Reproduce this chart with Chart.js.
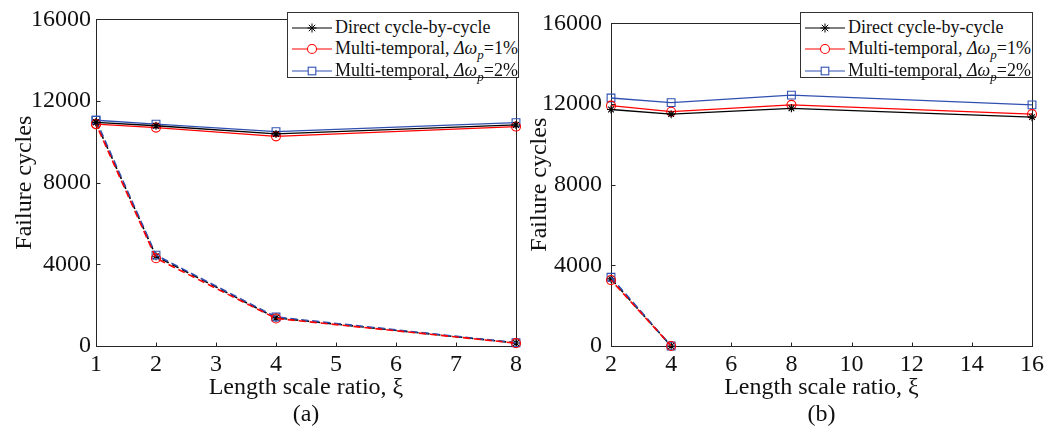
<!DOCTYPE html>
<html>
<head>
<meta charset="utf-8">
<script src="https://cdn.jsdelivr.net/npm/chart.js@4.4.1/dist/chart.umd.min.js"></script>
<style>
  html, body { margin: 0; padding: 0; background: #fff; }
  body { width: 1052px; height: 436px; position: relative; overflow: hidden; font-family: 'Liberation Serif', 'Times New Roman', Times, 'DejaVu Serif', serif; }
  .pane { position: absolute; top: 0; width: 526px; height: 436px; }
  .legend { position: absolute; background: #fff; border: 1px solid #333; box-sizing: border-box; font-family: 'Liberation Serif', 'Times New Roman', Times, 'DejaVu Serif', serif; font-size: 18px; color: #111; }
  .row { position: absolute; left: 0; height: 21px; line-height: 21px; white-space: nowrap; }
  .row svg { position: absolute; left: 4px; top: 0; }
  .row span { position: absolute; left: 47px; top: 0; }
  sub { font-size: 13px; line-height: 0; vertical-align: -5px; }
</style>
</head>
<body>
<div class="pane" style="left:0"><canvas id="ca" width="526" height="436"></canvas></div>
<div class="pane" style="left:526px"><canvas id="cb" width="526" height="436"></canvas></div>

<div class="legend" id="legA" style="left:287px; top:12px; width:232px; height:66px;"></div>
<div class="legend" id="legB" style="left:800px; top:12px; width:233px; height:66px;"></div>

<script>
// ---------- data ----------
const seriesNames = ['Direct cycle-by-cycle', 'Multi-temporal, ', 'Multi-temporal, '];
const seriesSuffix = ['', '=1%', '=2%'];

// panel (a)
const xA = [1, 2, 4, 8];
const aDirect = [10960, 10790, 10390, 10830];
const aMT1 = [10870, 10700, 10270, 10750];
const aMT2 = [11060, 10870, 10500, 10940];
const aDirectDash = [10960, 4400, 1380, 150];
const aMT1Dash = [10870, 4300, 1350, 140];
const aMT2Dash = [11060, 4450, 1420, 160];
const xTicksA = [1, 2, 3, 4, 5, 6, 7, 8];

// panel (b)
const xB = [2, 4, 8, 16];
const bDirect = [11730, 11500, 11790, 11350];
const bMT1 = [11920, 11620, 11960, 11500];
const bMT2 = [12300, 12070, 12440, 11960];
const xBDash = [2, 4];
const bDirectDash = [3330, 0];
const bMT1Dash = [3270, 0];
const bMT2Dash = [3410, 0];
const xTicksB = [2, 4, 6, 8, 10, 12, 14, 16];

const yTicks = [0, 4000, 8000, 12000, 16000];

// ---------- styles ----------
const BLACK = '#000000', RED = '#ff0000', BLUE = '#3050b0';
const FONT = "'Liberation Serif', 'Times New Roman', Times, 'DejaVu Serif', serif";

function pts(xs, ys) { return xs.map((x, i) => ({ x: x, y: ys[i] })); }

function ds(xs, ys, color, style, dashed, dashOffset) {
  const r = style === 'circle' ? 4.5 : (style === 'rect' ? 5.5 : 4);
  return {
    data: pts(xs, ys),
    borderColor: color,
    backgroundColor: 'rgba(0,0,0,0)',
    borderWidth: dashed ? 1.6 : 1.3,
    borderDash: dashed ? [7, 4] : [],
    borderDashOffset: dashOffset || 0,
    pointStyle: style,
    pointRadius: r,
    pointBorderColor: color,
    pointBackgroundColor: 'rgba(0,0,0,0)',
    pointBorderWidth: 1.1,
    tension: 0,
    clip: false
  };
}

const framePlugin = {
  id: 'frame',
  beforeDatasetsDraw(chart, args, opts) {
    const { ctx, chartArea: a, scales } = chart;
    ctx.save();
    ctx.strokeStyle = '#262626';
    ctx.lineWidth = 1;
    const L = Math.round(a.left) + 0.5, R = Math.round(a.right) + 0.5;
    const T = Math.round(a.top) + 0.5, B = Math.round(a.bottom) + 0.5;
    ctx.strokeRect(L, T, R - L, B - T);
    ctx.beginPath();
    opts.xTicks.forEach(v => {
      const px = Math.round(scales.x.getPixelForValue(v)) + 0.5;
      ctx.moveTo(px, B); ctx.lineTo(px, B - 4);
    });
    opts.yTicks.forEach(v => {
      const py = Math.round(scales.y.getPixelForValue(v)) + 0.5;
      ctx.moveTo(L, py); ctx.lineTo(L + 4, py);
    });
    ctx.stroke();
    ctx.restore();
  }
};

function makeChart(id, datasets, xMin, xMax, xTicks, yWidth, yPad, padRight, label) {
  return new Chart(document.getElementById(id), {
    type: 'line',
    data: { datasets: datasets },
    plugins: [framePlugin],
    options: {
      responsive: false,
      animation: false,
      events: [],
      layout: { padding: { top: 13, right: padRight, bottom: 0, left: 0 } },
      plugins: {
        legend: { display: false },
        tooltip: { enabled: false },
        frame: { xTicks: xTicks, yTicks: yTicks }
      },
      scales: {
        x: {
          type: 'linear', min: xMin, max: xMax,
          afterBuildTicks: s => { s.ticks = xTicks.map(v => ({ value: v })); },
          afterFit: s => { s.height = 90; },
          grid: { display: false, drawTicks: false },
          border: { display: false },
          ticks: { color: '#111', padding: 4, font: { family: FONT, size: 24 }, autoSkip: false, maxRotation: 0 },
          title: { display: true, text: ['Length scale ratio, \u03BE', label], color: '#111',
                   font: { family: FONT, size: 24, lineHeight: 1.15 }, padding: { top: 0, bottom: 7 } }
        },
        y: {
          type: 'linear', min: 0, max: 16000,
          afterBuildTicks: s => { s.ticks = yTicks.map(v => ({ value: v })); },
          afterFit: s => { s.width = yWidth; },
          grid: { display: false, drawTicks: false },
          border: { display: false },
          ticks: { color: '#111', padding: yPad, font: { family: FONT, size: 24 }, callback: v => String(v) },
          title: { display: true, text: 'Failure cycles', color: '#111',
                   font: { family: FONT, size: 24, lineHeight: 1.2 }, padding: { top: yWidth - 86, bottom: 0 } }
        }
      }
    }
  });
}

function draw() {
  makeChart('ca', [
    ds(xA, aDirect, BLACK, 'star', false),
    ds(xA, aMT1, RED, 'circle', false),
    ds(xA, aMT2, BLUE, 'rect', false),
    ds(xA, aMT1Dash, RED, 'circle', true, 4),
    ds(xA, aMT2Dash, BLUE, 'rect', true, 0),
    ds(xA, aDirectDash, BLACK, 'star', true, 0)
  ], 1, 8, xTicksA, 96, 5, 8, '(a)');

  makeChart('cb', [
    ds(xB, bDirect, BLACK, 'star', false),
    ds(xB, bMT1, RED, 'circle', false),
    ds(xB, bMT2, BLUE, 'rect', false),
    ds(xBDash, bMT1Dash, RED, 'circle', true, 4),
    ds(xBDash, bMT2Dash, BLUE, 'rect', true, 0),
    ds(xBDash, bDirectDash, BLACK, 'star', true, 0)
  ], 2, 16, xTicksB, 85, 9, 20, '(b)');
}

// ---------- legends ----------
const legColors = [BLACK, RED, BLUE];
const legMarks = [
  c => `<path d="M20 6.5v9M15.5 11h9M16.8 7.8l6.4 6.4M23.2 7.8l-6.4 6.4" stroke="${c}" stroke-width="1"/>`,
  c => `<circle cx="20" cy="11" r="4.5" fill="#fff" stroke="${c}" stroke-width="1.1"/>`,
  c => `<rect x="16.2" y="7.2" width="7.6" height="7.6" fill="#fff" stroke="${c}" stroke-width="1.1"/>`
];
function buildLegend(id) {
  const el = document.getElementById(id);
  let html = '';
  for (let i = 0; i < 3; i++) {
    const c = legColors[i];
    const text = i === 0 ? seriesNames[i]
      : seriesNames[i] + '<i>\u0394\u03C9<sub>p</sub></i>' + seriesSuffix[i];
    html += `<div class="row" style="top:${3.5 + i * 21.5}px">` +
      `<svg width="42" height="21"><line x1="0" y1="11" x2="40" y2="11" stroke="${c}" stroke-width="1.2"/>${legMarks[i](c)}</svg>` +
      `<span>${text}</span></div>`;
  }
  el.innerHTML = html;
}
buildLegend('legA');
buildLegend('legB');

if (document.fonts && document.fonts.load) {
  Promise.all([
    document.fonts.load("24px 'Liberation Serif'"),
    document.fonts.load("italic 18px 'Liberation Serif'")
  ]).then(draw, draw);
} else {
  draw();
}
</script>
</body>
</html>
